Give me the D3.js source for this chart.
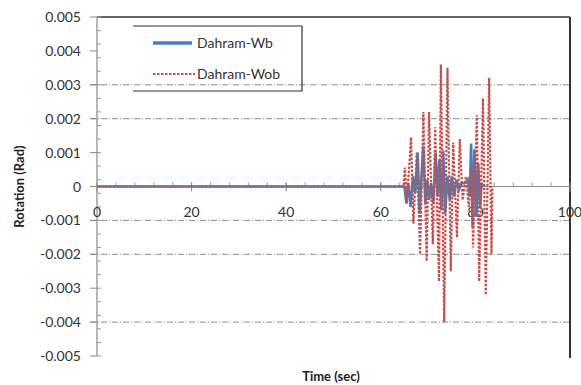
<!DOCTYPE html>
<html>
<head>
<meta charset="utf-8">
<script src="https://cdn.jsdelivr.net/npm/d3@7"></script>
<style>
  body { margin: 0; background: #fff; }
  svg { font-family: Lato, "Open Sans", sans-serif; }
</style>
</head>
<body>
<svg id="chart" width="581" height="385"></svg>
<script>
// Dahram-Wb (with base)
const timeWb = [0, 65.0, 65.4, 65.8, 66.3, 66.8, 67.3, 67.8, 68.2, 68.6, 69.0, 69.4, 69.8, 70.2, 70.6, 71.1, 71.6, 72.0, 72.4, 72.8, 73.2, 73.6, 74.1, 74.6, 75.0, 75.5, 76.0, 76.5, 77.0, 77.8, 78.4, 78.8, 79.1, 79.4, 79.8, 80.2, 80.6, 81.0, 81.3, 81.6]
const rotWb = [0, 0, -0.0005, 0.0001, -0.0006, 0.0003, -0.0002, 0.001, -0.0008, 0.0003, 0.0012, -0.0005, 0.0002, -0.0004, 0.0001, -0.0005, 0.001, -0.0003, 0.0008, -0.0007, 0.00106, -0.0008, 0.0003, -0.0004, 0.0003, -0.0003, 0.0002, -0.0001, 0.0001, 0.0001, 0.0002, -0.0003, 0.00127, -0.0012, 0.0011, -0.0009, 0.0007, -0.0006, 0.0001, 0]

// Dahram-Wob (without base)
const timeWob = [0, 64.8, 65.1, 65.5, 66.4, 66.9, 67.6, 68.3, 69.0, 69.7, 70.2, 71.0, 71.5, 72.3, 72.7, 73.4, 74.1, 74.8, 75.3, 76.1, 76.7, 77.3, 78.0, 78.6, 79.2, 79.5, 80.3, 80.8, 81.6, 82.2, 82.9, 83.4, 83.6]
const rotWob = [0, 0, 0.00056, -0.0005, 0.00145, -0.0011, 0.001, -0.002, 0.0022, -0.0022, 0.0022, -0.0017, 0.00175, -0.0028, 0.0036, -0.004, 0.0035, -0.0025, 0.0013, -0.0015, 0.0014, -0.0004, 0.0003, -0.0006, 0.0005, -0.0018, 0.0021, -0.0028, 0.0026, -0.0032, 0.0032, -0.002, 0]

const seriesNames = ['Dahram-Wb', 'Dahram-Wob']
const xTicks = [0, 20, 40, 60, 80, 100]
const yTicks = [0.005, 0.004, 0.003, 0.002, 0.001, 0, -0.001, -0.002, -0.003, -0.004, -0.005]
const gridValues = [0.003, 0.002, -0.001, -0.002, -0.004]

const blue = '#4a7ebb'
const red = '#c0504d'

const plotLeft = 97
const plotRight = 570
const plotTop = 17
const plotBottom = 356

const svg = d3.select('#chart')

const x = d3.scaleLinear().domain([0, 100]).range([plotLeft, plotRight])
const y = d3.scaleLinear().domain([-0.005, 0.005]).range([plotBottom, plotTop])

// grid lines
svg.append('g')
  .selectAll('line')
  .data(gridValues)
  .enter()
  .append('line')
  .attr('x1', plotLeft - 7)
  .attr('x2', plotRight)
  .attr('y1', d => y(d))
  .attr('y2', d => y(d))
  .attr('stroke', '#8a8a8a')
  .attr('stroke-width', 1)
  .attr('stroke-dasharray', '6,2,1,2')

// top and right border
svg.append('line')
  .attr('x1', plotLeft).attr('x2', plotRight)
  .attr('y1', plotTop).attr('y2', plotTop)
  .attr('stroke', '#333').attr('stroke-width', 1.5)
svg.append('line')
  .attr('x1', plotRight).attr('x2', plotRight)
  .attr('y1', plotTop).attr('y2', plotBottom + 2)
  .attr('stroke', '#333').attr('stroke-width', 2)

// y axis
const yAxis = svg.append('g')
yAxis.append('line')
  .attr('x1', plotLeft).attr('x2', plotLeft)
  .attr('y1', plotTop).attr('y2', plotBottom)
  .attr('stroke', '#888').attr('stroke-width', 1.2)

yAxis.selectAll('.minor')
  .data(d3.range(0, 26).map(i => 0.005 - i * 0.0004))
  .enter()
  .append('line')
  .attr('x1', plotLeft).attr('x2', plotLeft + 4)
  .attr('y1', d => y(d)).attr('y2', d => y(d))
  .attr('stroke', '#999')

yAxis.selectAll('.major')
  .data(yTicks)
  .enter()
  .append('line')
  .attr('x1', plotLeft - 7).attr('x2', plotLeft)
  .attr('y1', d => y(d)).attr('y2', d => y(d))
  .attr('stroke', '#888')

yAxis.selectAll('text')
  .data(yTicks)
  .enter()
  .append('text')
  .attr('x', plotLeft - 16)
  .attr('y', d => y(d))
  .attr('dy', '0.36em')
  .attr('text-anchor', 'end')
  .attr('font-size', 14)
  .attr('fill', '#333')
  .text(d => (d === 0 ? '0' : d.toFixed(3)))

// x axis along zero
const xAxis = svg.append('g')
xAxis.append('line')
  .attr('x1', plotLeft).attr('x2', plotRight)
  .attr('y1', y(0)).attr('y2', y(0))
  .attr('stroke', '#888')

xAxis.selectAll('.minor')
  .data(d3.range(4, 100, 4))
  .enter()
  .append('line')
  .attr('x1', d => x(d)).attr('x2', d => x(d))
  .attr('y1', y(0) - 4).attr('y2', y(0))
  .attr('stroke', '#999')

xAxis.selectAll('.major')
  .data(xTicks)
  .enter()
  .append('line')
  .attr('x1', d => x(d)).attr('x2', d => x(d))
  .attr('y1', y(0) - 4).attr('y2', y(0) + 5)
  .attr('stroke', '#888')

xAxis.selectAll('text')
  .data(xTicks)
  .enter()
  .append('text')
  .attr('x', d => x(d))
  .attr('y', y(0) + 30)
  .attr('text-anchor', 'middle')
  .attr('font-size', 14)
  .attr('fill', '#333')
  .text(d => d)

// series
const line = d3.line()
  .x(d => x(d[0]))
  .y(d => y(d[1]))

svg.append('path')
  .datum(d3.zip(timeWb, rotWb))
  .attr('d', line)
  .attr('fill', 'none')
  .attr('stroke', blue)
  .attr('stroke-width', 2.6)

svg.append('path')
  .datum(d3.zip(timeWob, rotWob))
  .attr('d', line)
  .attr('fill', 'none')
  .attr('stroke', red)
  .attr('stroke-width', 2.2)
  .attr('stroke-dasharray', '2.5,1.5')

// legend
const legend = svg.append('g')
legend.append('path')
  .attr('d', 'M133,26H302V91H133')
  .attr('fill', 'none')
  .attr('stroke', '#333')
  .attr('stroke-width', 1.2)

legend.append('line')
  .attr('x1', 153).attr('x2', 192)
  .attr('y1', 43).attr('y2', 43)
  .attr('stroke', blue).attr('stroke-width', 3.5)
legend.append('line')
  .attr('x1', 153).attr('x2', 195)
  .attr('y1', 74).attr('y2', 74)
  .attr('stroke', red).attr('stroke-width', 1.8)
  .attr('stroke-dasharray', '2.5,1.5')

legend.selectAll('text')
  .data(seriesNames)
  .enter()
  .append('text')
  .attr('x', 197)
  .attr('y', (d, i) => (i === 0 ? 43 : 74))
  .attr('dy', '0.36em')
  .attr('font-size', 14)
  .attr('fill', '#333')
  .text(d => d)

// axis titles
svg.append('text')
  .attr('transform', 'translate(24,' + y(0) + ') rotate(-90)')
  .attr('text-anchor', 'middle')
  .attr('font-size', 13)
  .attr('font-weight', 'bold')
  .attr('fill', '#222')
  .text('Rotation (Rad)')

svg.append('text')
  .attr('x', 331)
  .attr('y', 381)
  .attr('text-anchor', 'middle')
  .attr('font-size', 13)
  .attr('font-weight', 'bold')
  .attr('fill', '#222')
  .text('Time (sec)')
</script>
</body>
</html>
